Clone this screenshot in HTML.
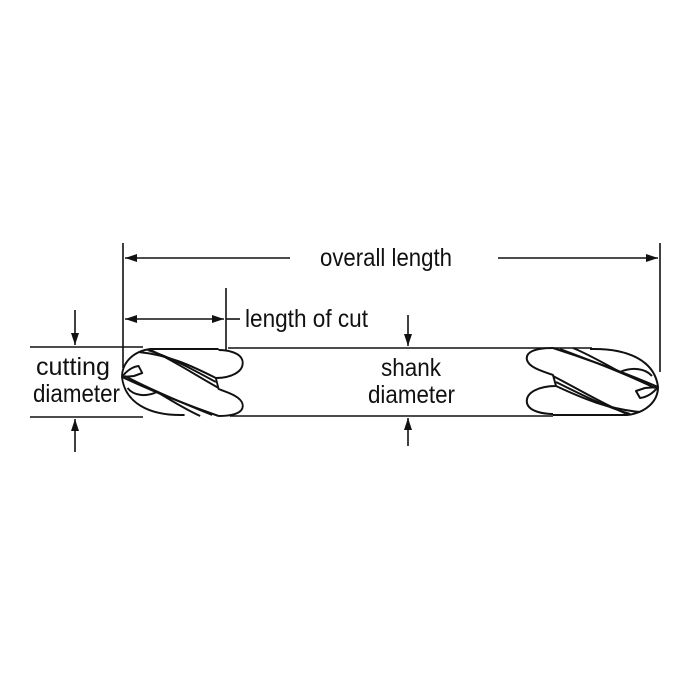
<!DOCTYPE html>
<html><head><style>
html,body{margin:0;padding:0;background:#fff;}
svg{display:block}
text{font-family:"Liberation Sans",sans-serif;font-size:25px;fill:#111}
</style></head><body>
<svg width="700" height="700" viewBox="0 0 700 700" xmlns="http://www.w3.org/2000/svg">
<defs>
<marker id="a" markerWidth="12" markerHeight="8" refX="12" refY="4" orient="auto" markerUnits="userSpaceOnUse"><path d="M0,0 L12,4 L0,8 z" fill="#111"/></marker>
<g id="head" stroke="#111" stroke-width="2" fill="none" stroke-linejoin="round">
<path d="M553,348 C535,348 525,352 527,360 C529,368 545,372 553,375 L556,386 C540,386 525,392 527,403 C529,412 545,414 553,414"/>
<path d="M590,349 C630,348 655,362 658,387 C658,402 645,413 627,415 L553,415"/>
<path d="M553,348 C590,360 630,375 658,387"/>
<path d="M560,349 C595,362 630,376 655,388"/>
<path d="M573,348 C590,355 605,364 620,372 C632,367 645,368 652,376"/>
<path d="M553,376 C580,390 605,405 627,414"/>
<path d="M556,382 C582,395 606,407 630,414"/>
<path d="M556,386 C584,399 608,409 640,412"/>
<path d="M658,387 L645,388 L636,391 L640,398 C648,397 654,392 658,387"/>
</g>
</defs>
<g stroke="#111" stroke-width="1.6" fill="none">
<line x1="123" y1="243" x2="123" y2="368"/>
<line x1="660" y1="243" x2="660" y2="372"/>
<line x1="290" y1="258" x2="125" y2="258" marker-end="url(#a)"/>
<line x1="498" y1="258" x2="658" y2="258" marker-end="url(#a)"/>
<line x1="226" y1="288" x2="226" y2="350"/>
<line x1="175" y1="319" x2="125" y2="319" marker-end="url(#a)"/>
<line x1="175" y1="319" x2="224" y2="319" marker-end="url(#a)"/>
<line x1="226" y1="319" x2="240" y2="319"/>
<line x1="30" y1="347" x2="143" y2="347"/>
<line x1="30" y1="417" x2="143" y2="417"/>
<line x1="75" y1="310" x2="75" y2="345" marker-end="url(#a)"/>
<line x1="75" y1="452" x2="75" y2="419" marker-end="url(#a)"/>
<line x1="228" y1="348" x2="592" y2="348"/>
<line x1="230" y1="416" x2="553" y2="416"/>
<line x1="408" y1="315" x2="408" y2="346" marker-end="url(#a)"/>
<line x1="408" y1="446" x2="408" y2="418" marker-end="url(#a)"/>
</g>
<use href="#head"/>
<g transform="translate(122 376) scale(0.92 1) translate(-122 -376)">
<use href="#head" transform="rotate(180 390 382)"/>
</g>
<text x="320" y="266" textLength="132" lengthAdjust="spacingAndGlyphs">overall length</text>
<text x="245" y="327" textLength="123" lengthAdjust="spacingAndGlyphs">length of cut</text>
<text x="36" y="375" textLength="74" lengthAdjust="spacingAndGlyphs">cutting</text>
<text x="33" y="402" textLength="87" lengthAdjust="spacingAndGlyphs">diameter</text>
<text x="381" y="376" textLength="60" lengthAdjust="spacingAndGlyphs">shank</text>
<text x="368" y="403" textLength="87" lengthAdjust="spacingAndGlyphs">diameter</text>
</svg>
</body></html>
